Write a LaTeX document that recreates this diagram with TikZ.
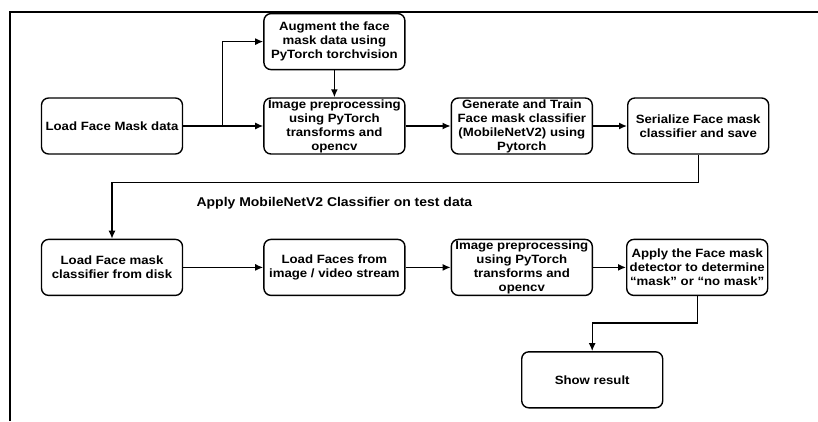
\documentclass[tikz,border=0pt]{standalone}
\usepackage{fontspec}
\setmainfont{Liberation Sans}
\newfontfamily\widesans[FakeStretch=1.1]{Liberation Sans}
\usetikzlibrary{arrows.meta, positioning}

\begin{document}
\begin{tikzpicture}[>={Latex[length=8pt, width=7pt]}, line width=1.4pt,
    box/.style={rounded corners=2.5mm, rectangle, align=center, draw, minimum width=141pt, minimum height=56pt, inner xsep=1pt, inner ysep=0pt, font=\widesans\fontsize{12}{14}\selectfont\bfseries}]
    \useasboundingbox (0,0) rectangle (818pt,-421pt);
    \draw [line width=1.8pt] (10pt,-421pt) -- (10pt,-12pt) -- (818pt,-12pt);

    % training
    \node [box] (load) at (112pt,-126pt) {Load Face Mask data};
    \node [box, right=80pt of load] (prep) {Image preprocessing\\ using PyTorch\\ transforms and\\ opencv};
    \node [box, above=27pt of prep] (augment) {Augment the face\\ mask data using\\ PyTorch torchvision};
    \node [box, right=45pt of prep] (train) {Generate and Train\\ Face mask classifier\\ (MobileNetV2) using\\ Pytorch};
    \node [box, right=34pt of train] (save) {Serialize Face mask\\ classifier and save};

    % testing
    \node [box, below=84pt of load] (loadclf) {Load Face mask\\ classifier from disk};
    \node [box, right=80pt of loadclf] (faces) {Load Faces from\\ image / video stream};
    \node [box, right=45pt of faces] (prep2) {Image preprocessing\\ using PyTorch\\ transforms and\\ opencv};
    \node [box, right=33pt of prep2] (detect) {Apply the Face mask\\ detector to determine\\ “mask” or “no mask”};
    \node [box, below=55pt of detect, xshift=-105pt] (show) {Show result};
    \node [font=\widesans\fontsize{12.7}{14}\selectfont\bfseries, above=26pt of faces] (applylabel) {Apply MobileNetV2 Classifier on test data};

    \coordinate [right=39pt of load.east] (split);
    \coordinate [below=28pt of save.south] (turn);
    \coordinate [below=27pt of detect.south] (turn2);

    \path [->, draw] (load) -- (prep);
    \path [->, draw] (split) |- (augment);
    \path [->, draw] (augment) -- (prep);
    \path [->, draw] (prep) -- (train);
    \path [->, draw] (train) -- (save);
    \path [->, draw] (save) -- (turn) -| (loadclf);
    \path [->, draw] (loadclf) -- (faces);
    \path [->, draw] (faces) -- (prep2);
    \path [->, draw] (prep2) -- (detect);
    \path [->, draw] (detect) -- (turn2) -| (show);
\end{tikzpicture}
\end{document}
